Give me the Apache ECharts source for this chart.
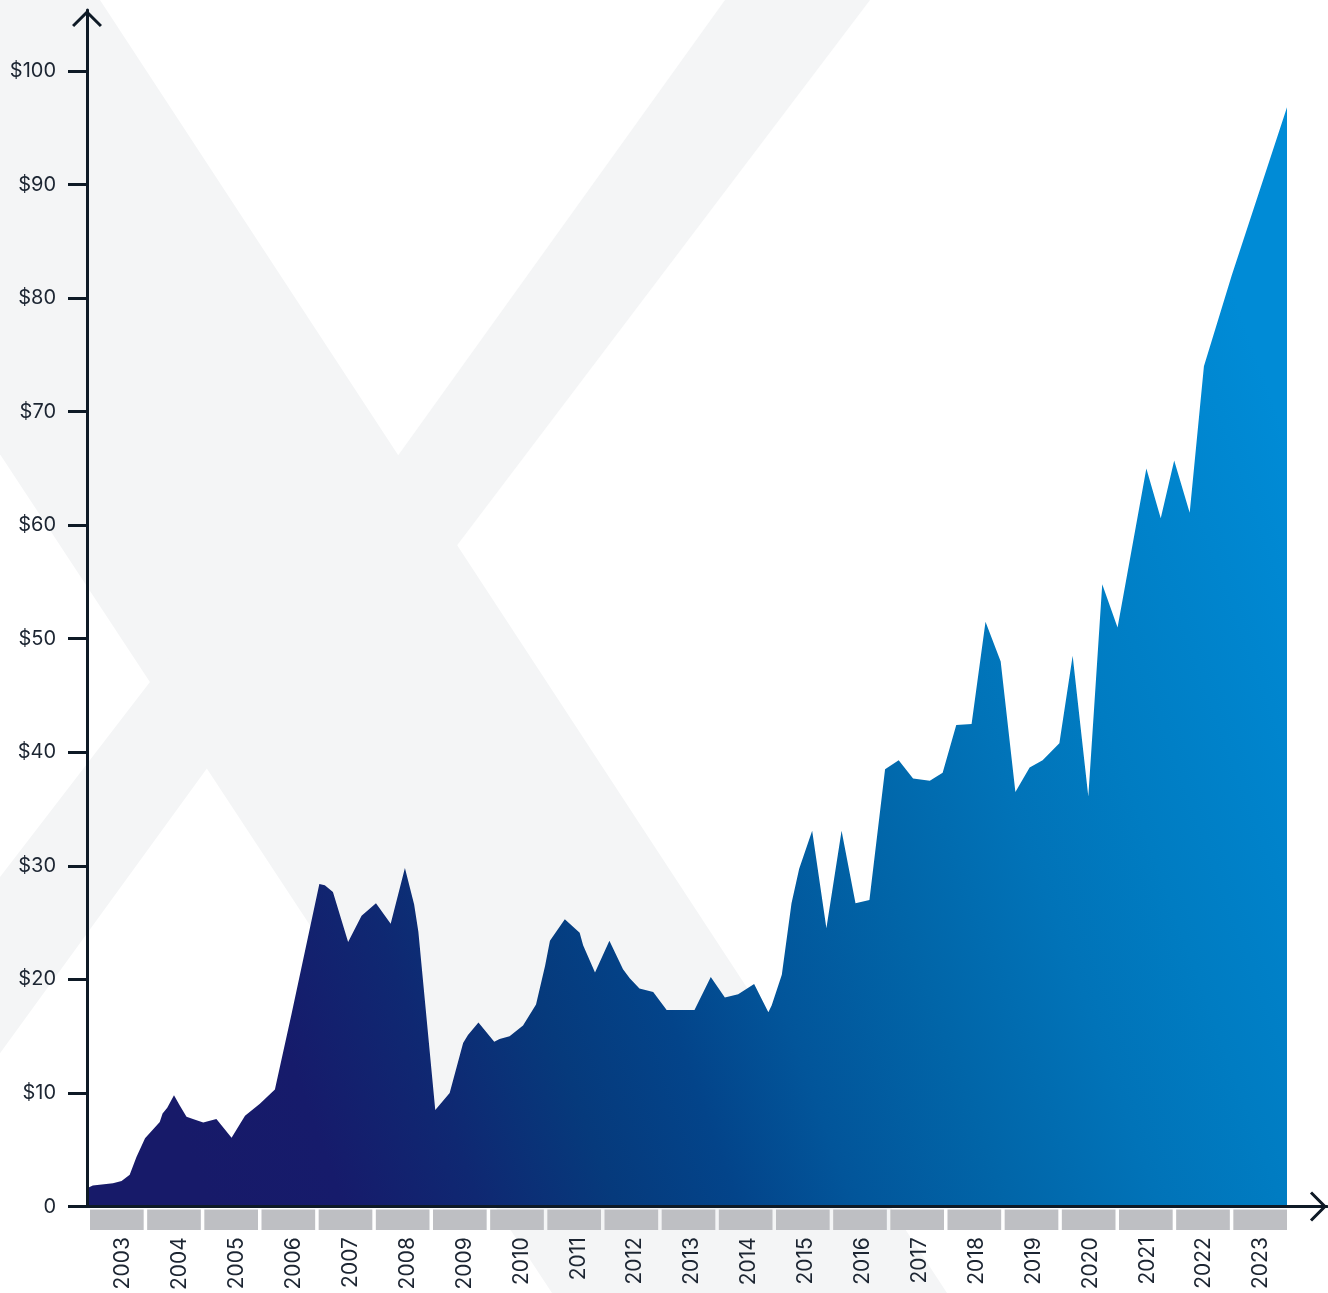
<!DOCTYPE html>
<html>
<head>
<meta charset="utf-8">
<script src="https://cdn.jsdelivr.net/npm/echarts@6/dist/echarts.min.js"></script>
<style>
  html, body { margin: 0; padding: 0; background: #ffffff; }
  #chart { width: 1328px; height: 1293px; }
</style>
</head>
<body>
<div id="chart"></div>
<script>
// Share price history, USD
const dates = [
  '2003-01-01', '2003-02-07', '2003-06-16', '2003-08-10', '2003-10-01', '2003-11-13',
  '2004-01-07', '2004-04-10', '2004-04-28', '2004-05-28', '2004-07-10', '2004-08-16',
  '2004-09-28', '2004-11-22', '2005-01-13', '2005-04-07', '2005-07-13', '2005-10-07',
  '2006-01-10', '2006-04-16', '2006-08-01', '2007-01-25', '2007-03-01', '2007-04-22',
  '2007-07-28', '2007-10-22', '2008-01-22', '2008-04-25', '2008-07-25', '2008-09-22',
  '2008-10-19', '2009-02-04', '2009-05-07', '2009-08-01', '2009-09-01', '2009-11-07',
  '2010-02-16', '2010-03-22', '2010-05-25', '2010-08-19', '2010-11-10', '2011-01-07',
  '2011-02-07', '2011-05-13', '2011-08-16', '2011-09-07', '2011-11-22', '2012-02-22',
  '2012-05-19', '2012-07-01', '2012-09-01', '2012-11-28', '2013-02-22', '2013-08-19',
  '2013-12-01', '2014-03-01', '2014-05-25', '2014-09-04', '2014-12-04', '2014-12-25',
  '2015-02-28', '2015-05-01', '2015-06-19', '2015-09-10', '2015-12-10', '2016-03-16',
  '2016-06-13', '2016-09-10', '2016-12-19', '2017-03-16', '2017-06-16', '2017-10-01',
  '2017-12-22', '2018-03-19', '2018-06-25', '2018-09-22', '2018-12-28', '2019-04-01',
  '2019-07-01', '2019-09-22', '2020-01-07', '2020-04-01', '2020-07-10', '2020-10-07',
  '2021-01-13', '2021-07-16', '2021-10-16', '2022-01-10', '2022-04-19', '2022-07-19',
  '2023-01-13', '2024-01-01'
];
const prices = [
  1.6, 1.85, 2.05, 2.25, 2.8, 4.35,
  6.0, 7.45, 8.2, 8.7, 9.8, 8.9,
  7.9, 7.65, 7.4, 7.7, 6.05, 8.0,
  9.05, 10.3, 17.0, 28.4, 28.3, 27.7,
  23.3, 25.6, 26.7, 24.9, 29.8, 26.6,
  24.2, 8.5, 10.0, 14.4, 15.1, 16.2,
  14.5, 14.75, 15.0, 15.95, 17.8, 21.2,
  23.4, 25.3, 24.1, 23.0, 20.6, 23.4,
  20.9, 20.1, 19.2, 18.9, 17.3, 17.3,
  20.2, 18.4, 18.7, 19.6, 17.1, 17.7,
  20.4, 26.7, 29.75, 33.1, 24.5, 33.1,
  26.7, 27.0, 38.5, 39.3, 37.7, 37.5,
  38.2, 42.4, 42.5, 51.5, 48.0, 36.5,
  38.65, 39.3, 40.8, 48.5, 36.1, 54.8,
  51.0, 65.0, 60.6, 65.7, 61.1, 74.0,
  82.0, 96.8
];
const years = ['2003', '2004', '2005', '2006', '2007', '2008', '2009', '2010', '2011', '2012',
  '2013', '2014', '2015', '2016', '2017', '2018', '2019', '2020', '2021', '2022', '2023'];
const priceTicks = [0, 10, 20, 30, 40, 50, 60, 70, 80, 90, 100];
const yearBoxes = years.map(() => 1);

const INK = '#0e1a26';
const TEXT = '#1c2532';
const WATERMARK = '#f4f5f6';
const BOX = '#bebfc3';
const FONT = 'Inter, "Noto Sans", sans-serif';

// the x axis runs a little past the last year so the arrow sits clear of the area
const plotStart = +new Date(2003, 0, 1);
const plotEnd = +new Date(2024, 0, 1);
const plotWidth = 1200;
const axisWidth = 1240;
const axisEnd = plotStart + (plotEnd - plotStart) * axisWidth / plotWidth;

// open chevron used as the axis arrow head (points up before the axis rotates it)
const CHEVRON = 'path://M15,0L30,15L27.88,17.12L15,4.24L2.12,17.12L0,15Z';

const chart = echarts.init(document.getElementById('chart'), null, { renderer: 'canvas' });

chart.setOption({
  animation: false,
  backgroundColor: '#ffffff',
  graphic: {
    elements: [
      { type: 'polygon', z: -10, silent: true,
        shape: { points: [[-299, 0], [100, 0], [947, 1293], [552, 1293]] },
        style: { fill: WATERMARK } },
      { type: 'polygon', z: -10, silent: true,
        shape: { points: [[725, 0], [870, 0], [427, 585], [369, 496]] },
        style: { fill: WATERMARK } },
      { type: 'polygon', z: -10, silent: true,
        shape: { points: [[173, 652], [229, 738], [-50, 1122], [-50, 942]] },
        style: { fill: WATERMARK } }
    ]
  },
  grid: [
    { left: 87, top: 10, width: axisWidth, bottom: 86.5 },
    { left: 88.25, top: 1209.5, width: 1200.5, height: 20.5 },
    { left: 94.5, top: 1210, width: 1195, height: 20 }
  ],
  xAxis: [
    {
      type: 'time', gridIndex: 0, min: plotStart, max: axisEnd, z: 10,
      axisLine: {
        show: true,
        symbol: ['none', CHEVRON], symbolSize: [30, 17.12], symbolOffset: [0, -8.5],
        lineStyle: { color: INK, width: 3 }
      },
      axisTick: { show: false }, axisLabel: { show: false }, splitLine: { show: false }
    },
    {
      type: 'category', gridIndex: 1, data: years, show: false
    },
    {
      type: 'category', gridIndex: 2, data: years,
      axisLine: { show: false }, axisTick: { show: false }, splitLine: { show: false },
      axisLabel: {
        rotate: 90, margin: 13, interval: 0,
        color: TEXT, fontFamily: FONT, fontSize: 21
      }
    }
  ],
  yAxis: [
    {
      type: 'value', gridIndex: 0, min: 0, max: 105.37, z: 10,
      axisLine: {
        show: true,
        symbol: ['none', CHEVRON], symbolSize: [30, 17.12], symbolOffset: [0, -8.5],
        lineStyle: { color: INK, width: 3 }
      },
      axisTick: {
        show: true, length: 19, customValues: priceTicks,
        lineStyle: { color: INK, width: 3 }
      },
      axisLabel: {
        customValues: priceTicks, margin: 31,
        color: TEXT, fontFamily: FONT, fontSize: 20,
        formatter: v => (v === 0 ? '0' : '$' + v)
      },
      splitLine: { show: false }
    },
    { type: 'value', gridIndex: 1, min: 0, max: 1, show: false },
    { type: 'value', gridIndex: 2, min: 0, max: 1, show: false }
  ],
  series: [
    {
      type: 'line', xAxisIndex: 0, yAxisIndex: 0, z: 2, silent: true,
      data: dates.map((d, i) => [d, prices[i]]),
      symbol: 'none', showSymbol: false,
      lineStyle: { width: 0 },
      areaStyle: {
        opacity: 1,
        color: new echarts.graphic.LinearGradient(0, 0.7, 1, 0.3, [
          { offset: 0.0, color: '#171a69' },
          { offset: 0.1, color: '#161b6b' },
          { offset: 0.2, color: '#0f2872' },
          { offset: 0.3, color: '#063a7c' },
          { offset: 0.39, color: '#03448a' },
          { offset: 0.475, color: '#02559a' },
          { offset: 0.587, color: '#0165a8' },
          { offset: 0.7, color: '#0173b8' },
          { offset: 0.79, color: '#007cc2' },
          { offset: 1.0, color: '#008bd6' }
        ])
      }
    },
    {
      type: 'bar', xAxisIndex: 1, yAxisIndex: 1, silent: true,
      data: yearBoxes, barCategoryGap: '6.1%',
      itemStyle: { color: BOX }
    }
  ]
});
</script>
</body>
</html>
